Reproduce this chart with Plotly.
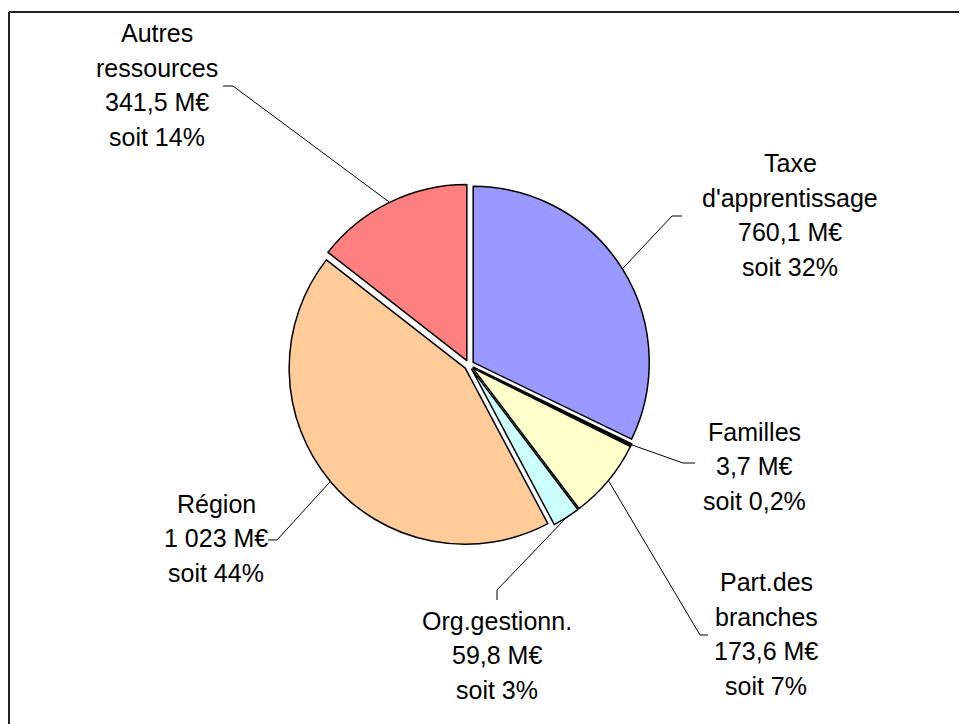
import math
import plotly.graph_objects as go

# ---- data ----
categories = ["Taxe<br>d'apprentissage", "Familles", "Part.des<br>branches",
              "Org.gestionn.", "Région", "Autres<br>ressources"]
values = [760.1, 3.7, 173.6, 59.8, 1023.0, 341.5]
value_labels = ["760,1 M€", "3,7 M€", "173,6 M€", "59,8 M€", "1 023 M€", "341,5 M€"]
pct_labels = ["soit 32%", "soit 0,2%", "soit 7%", "soit 3%", "soit 44%", "soit 14%"]
colors = ["#9999FF", "#FFFFFF", "#FFFFCC", "#CCFFFF", "#FFCC99", "#FF8080"]

# ---- layout (pixels, in page coordinates) ----
OFF = 8                    # page body margin
W, H = 967 - OFF, 724 - OFF
CX, CY = 469, 365          # pie centre
HALF = 181                 # half of domain size
PULL = 0.028
R = HALF / (1 + PULL)
LINE_H = 34.5

# label centres and leader-line elbows/ends (pixels)
label_pos = [(790, 215), (754, 466), (766, 634), (497, 655), (216, 538), (157, 85)]
elbows = [(672, 216), (683, 463), (700, 635), (497, 590), (277, 540), (233, 86)]
ends = [(682, 216), (695, 463), (708, 635), (497, 600), (268, 540), (223, 86)]

def px(x):
    return (x - OFF) / W

def py(y):
    return 1 - (y - OFF) / H

fig = go.Figure(go.Pie(
    labels=categories, values=values, sort=False, direction="clockwise", rotation=0,
    pull=[PULL] * len(values), textinfo="none", hoverinfo="none",
    marker=dict(colors=colors, line=dict(color="black", width=1.5)),
    domain=dict(x=[px(CX - HALF), px(CX + HALF)], y=[py(CY + HALF), py(CY - HALF)]),
    showlegend=False,
))

shapes = []
annotations = []
total = sum(values)
cum = 0.0
for i, v in enumerate(values):
    mid = (cum + v / 2) / total * 2 * math.pi
    cum += v
    rr = R * (1 + PULL)
    sx, sy = CX + rr * math.sin(mid), CY - rr * math.cos(mid)
    ex, ey = elbows[i]
    fx, fy = ends[i]
    shapes.append(dict(type="line", xref="paper", yref="paper",
                       x0=px(sx), y0=py(sy), x1=px(ex), y1=py(ey),
                       line=dict(color="black", width=1)))
    shapes.append(dict(type="line", xref="paper", yref="paper",
                       x0=px(ex), y0=py(ey), x1=px(fx), y1=py(fy),
                       line=dict(color="black", width=1)))
    lines = categories[i].split("<br>") + [value_labels[i], pct_labels[i]]
    lx, ly = label_pos[i]
    n = len(lines)
    for k, t in enumerate(lines):
        yk = ly + (k - (n - 1) / 2) * LINE_H
        annotations.append(dict(
            x=px(lx), y=py(yk), xref="paper", yref="paper", xanchor="center", yanchor="middle",
            text=t, showarrow=False,
            font=dict(family="Liberation Sans, Arial", size=25, color="black")))

# frame (top and left edges visible)
shapes.append(dict(type="line", xref="paper", yref="paper", x0=px(9), y0=py(12), x1=1.01, y1=py(12),
                   line=dict(color="#222222", width=2)))
shapes.append(dict(type="line", xref="paper", yref="paper", x0=px(9), y0=py(12), x1=px(9), y1=-0.01,
                   line=dict(color="#222222", width=2)))

fig.update_layout(width=W, height=H, margin=dict(l=0, r=0, t=0, b=0),
                  paper_bgcolor="white", plot_bgcolor="white",
                  shapes=shapes, annotations=annotations)

fig.write_html("out.html")
